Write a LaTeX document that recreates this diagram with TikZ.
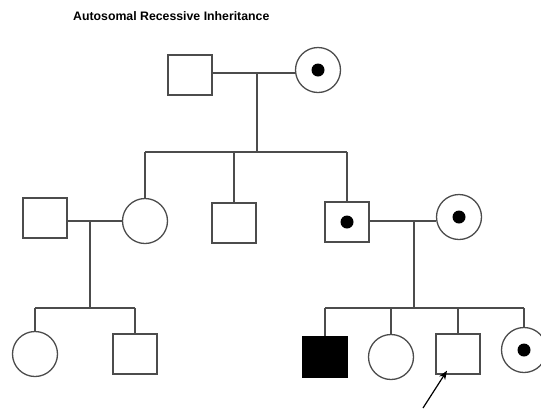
\documentclass[tikz,border=0pt]{standalone}
\usepackage{fontspec}
\setmainfont{Liberation Sans}
\usetikzlibrary{arrows.meta}
\begin{document}
\begin{tikzpicture}[x=1pt,y=-1pt,
  ln/.style={draw=black!70, line width=1.3pt},
  male/.style={ln, rectangle, minimum width=44pt, minimum height=40pt, inner sep=0pt, fill=white},
  female/.style={ln, circle, minimum size=45pt, inner sep=0pt, fill=white},
  affected/.style={fill=black, draw=black},
  carrier/.style={path picture={\fill[black] (path picture bounding box.center) circle (6.5pt);}},
  conn/.style={draw=black!70, line width=1.3pt}]
\useasboundingbox (0,0) rectangle (541,408);
\node[font=\bfseries\fontsize{12.3}{14}\selectfont, anchor=west, inner sep=0pt] (title) at (73,16) {Autosomal Recessive Inheritance};
% generation I
\node[male] (I1) at (190,75) {};
\node[female, carrier] (I2) at (318,70) {};
% generation II
\node[male] (II1) at (45,218) {};
\node[female] (II2) at (145,221) {};
\node[male] (II3) at (234,223) {};
\node[male, carrier] (II4) at (347,222) {};
\node[female, carrier] (II5) at (459,217) {};
% generation III
\node[female] (III1) at (35,354) {};
\node[male] (III2) at (135,354) {};
\node[male, affected] (III3) at (325,357) {};
\node[female] (III4) at (391,357) {};
\node[male] (III5) at (458,354) {};
\node[female, carrier] (III6) at (524,350) {};
% coordinates
\coordinate (m1) at (257,73);
\coordinate (s1) at (257,152);
\coordinate (m2) at (90,221);
\coordinate (s2) at (90,308);
\coordinate (m3) at (414,221);
\coordinate (s3) at (414,308);
\coordinate (a0) at (423,408);
% gen I mating and sibship
\draw[conn] (I1.east |- m1) -- (I2.west |- m1);
\draw[conn] (m1) -- (s1);
\draw[conn] (II2.north |- s1) -- (II4.north |- s1);
\draw[conn] (II2.north |- s1) -- (II2.north);
\draw[conn] (II3.north |- s1) -- (II3.north);
\draw[conn] (II4.north |- s1) -- (II4.north);
% gen II left couple
\draw[conn] (II1.east |- m2) -- (II2.west |- m2);
\draw[conn] (m2) -- (s2);
\draw[conn] (III1.north |- s2) -- (III2.north |- s2);
\draw[conn] (III1.north |- s2) -- (III1.north);
\draw[conn] (III2.north |- s2) -- (III2.north);
% gen II right couple
\draw[conn] (II4.east |- m3) -- (II5.west |- m3);
\draw[conn] (m3) -- (s3);
\draw[conn] (III3.north |- s3) -- (III6.north |- s3);
\draw[conn] (III3.north |- s3) -- (III3.north);
\draw[conn] (III4.north |- s3) -- (III4.north);
\draw[conn] (III5.north |- s3) -- (III5.north);
\draw[conn] (III6.north |- s3) -- (III6.north);
% proband arrow
\draw[black, line width=1.2pt, -{Stealth[length=9pt,width=7pt]}] (a0) -- ([xshift=-11pt,yshift=4pt]III5.south);
\end{tikzpicture}
\end{document}
